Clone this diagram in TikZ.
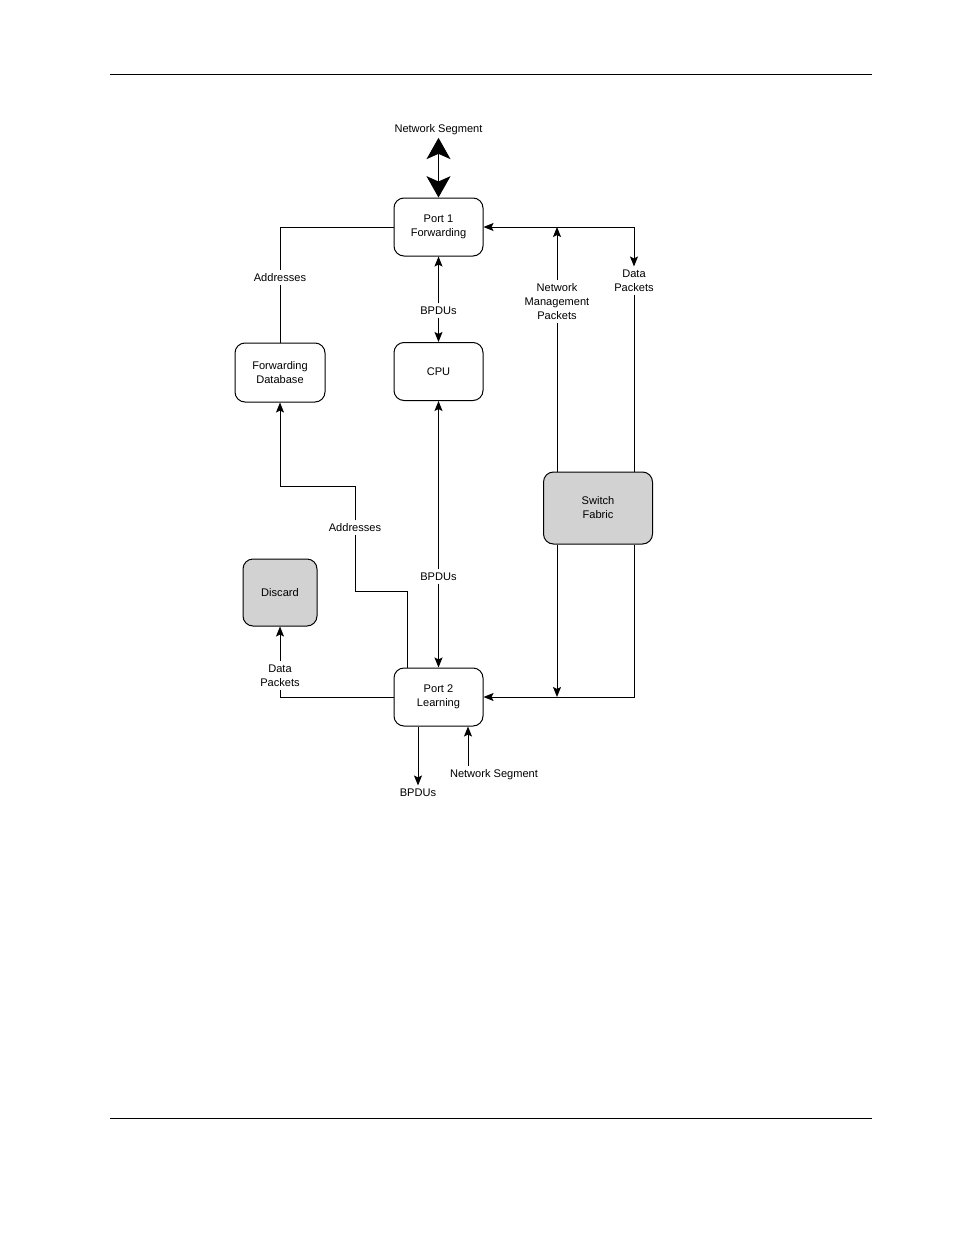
\documentclass[tikz,border=0pt]{standalone}
\usepackage{fontspec}
\setmainfont{Liberation Sans}
\usepackage{tikz}
\usetikzlibrary{arrows.meta}

\tikzset{
  box/.style={draw,rounded corners=7.5pt,minimum width=66.75pt,minimum height=43.5pt,align=center},
  greybox/.style={box,fill=gray!35},
  lbl/.style={fill=white,align=center,inner sep=2pt},
  arr/.style={-{Stealth[length=7.5pt,width=6pt,inset=1.5pt]}},
  dblarr/.style={{Stealth[length=7.5pt,width=6pt,inset=1.5pt]}-{Stealth[length=7.5pt,width=6pt,inset=1.5pt]}},
  bigarr/.style={{Stealth[length=16pt,width=18pt,inset=4pt]}-{Stealth[length=16pt,width=18pt,inset=4pt]}}
}

\begin{document}
\begin{tikzpicture}[x=0.75pt,y=-0.75pt,line width=0.75pt,
  every node/.style={font=\fontsize{8.3}{10.5}\selectfont}]
\useasboundingbox (0,0) rectangle (954,1235);

% Page rules
\draw (110,74) -- (872,74);
\draw (110,1118) -- (872,1118);

% Blocks
\node[box] (port1) at (438.5,227) {Port 1\\Forwarding};
\node[box] (cpu) at (438.5,371.5) {CPU};
\node[box,minimum width=67.5pt,minimum height=44.25pt] (fwddb) at (280,372.5) {Forwarding\\Database};
\node[greybox,minimum width=81.75pt,minimum height=54pt] (swf) at (598,508) {Switch\\ Fabric};
\node[greybox,minimum width=55.5pt,minimum height=50.25pt] (discard) at (280,592.5) {Discard};
\node[box] (port2) at (438.5,697) {Port 2\\Learning};

% Labels
\node[lbl] (netseg1) at (438.5,129.5) {Network Segment};
\node[lbl] (addr1) at (280,277.5) {Addresses};
\node[lbl] (bpdu1) at (438.5,310.5) {BPDUs};
\node[lbl] (nmp) at (557,301.5) {Network\\Management\\Packets};
\node[lbl] (dpR) at (634,280.5) {Data\\Packets};
\node[lbl] (addr2) at (355,527.5) {Addresses};
\node[lbl] (bpdu2) at (438.5,576.5) {BPDUs};
\node[lbl] (dpL) at (280,675.5) {Data\\Packets};
\node[lbl] (bpdu3) at (418,792.5) {BPDUs};
\node[lbl] (netseg2) at (494,774.5) {Network Segment};

\coordinate (a2) at (407,591);
\coordinate (b2) at (355,486);
\coordinate (ns2) at (468,766);

% Port 1 side
\draw[bigarr] (netseg1.south) -- (port1.north);
\draw (port1.west) -| (addr1.north);
\draw (addr1.south) -- (fwddb.north);
\draw[arr] (bpdu1.north) -- (port1.south);
\draw[arr] (bpdu1.south) -- (cpu.north);

% Switch fabric, upper
\draw[dblarr] (dpR.north) |- (port1.east);
\draw[arr] (nmp.north) -- (nmp.north |- port1.east);
\draw (nmp.south) -- (nmp.south |- swf.north);
\draw (dpR.south) -- (dpR.south |- swf.north);

% CPU to Port 2
\draw[arr] (bpdu2.north) -- (cpu.south);
\draw[arr] (bpdu2.south) -- (port2.north);

% Addresses from Port 2
\draw (port2.north -| a2) -- (a2) -| (addr2.south);
\draw[arr] (addr2.north) |- (b2) -| (fwddb.south);

% Discard
\draw (port2.west) -| (dpL.south);
\draw[arr] (dpL.north) -- (discard.south);

% Switch fabric, lower
\draw[arr] (swf.south -| nmp) -- (nmp |- port2.east);
\draw[arr] (swf.south -| dpR) |- (port2.east);

% Port 2 bottom
\draw[arr] (port2.south -| bpdu3) -- (bpdu3.north);
\draw[arr] (ns2) -- (ns2 |- port2.south);

\end{tikzpicture}
\end{document}
